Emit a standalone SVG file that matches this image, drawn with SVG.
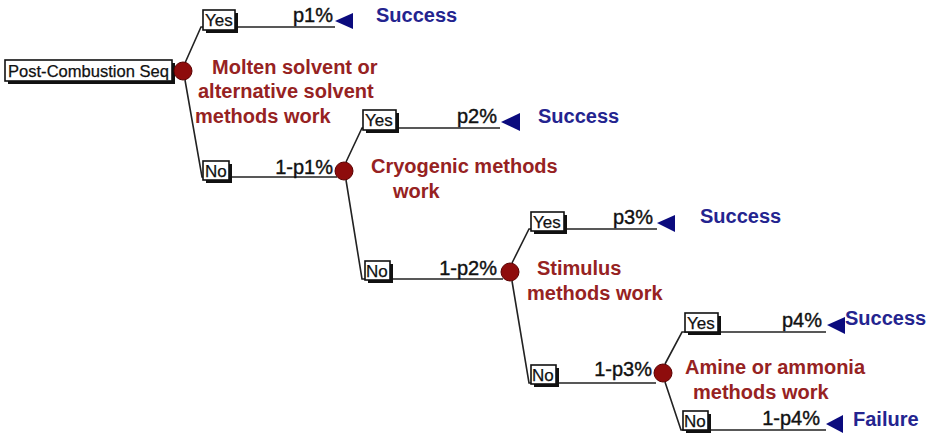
<svg xmlns="http://www.w3.org/2000/svg" width="935" height="440" viewBox="0 0 935 440">
<defs>
<style>
text{font-family:"Liberation Sans",Arial,sans-serif}
.box{fill:#fff;stroke:#111;stroke-width:1.6}
.sh{fill:#111}
.bt{font-size:17px;fill:#111;stroke:#111;stroke-width:0.25}
.dec{fill:#8e0c0c;stroke:#5a0000;stroke-width:1}
.lbl{font-size:20px;font-weight:bold;fill:#962222}
.pr{font-size:20px;fill:#111;stroke:#111;stroke-width:0.4;text-anchor:end}
.end{fill:#0b0b7e}
.out{font-size:20px;font-weight:bold;fill:#24248f}
.ln{fill:none;stroke:#222;stroke-width:1.6}
</style>
</defs>
<rect width="935" height="440" fill="#fff"/>
<g id="connectors">
<path class="ln" d="M185,63 L201,27 L335,27"/>
<path class="ln" d="M185,80 L202,177 L337,177"/>
<path class="ln" d="M346,162 L362,128 L500,128"/>
<path class="ln" d="M346,180 L362,279 L503,279"/>
<path class="ln" d="M512,263 L529,229 L657,229"/>
<path class="ln" d="M512,281 L529,383 L656,383"/>
<path class="ln" d="M665,364 L682,332 L826,332"/>
<path class="ln" d="M665,382 L681,430 L826,430"/>
</g>
<g id="root">
<rect class="sh" x="8" y="63" width="167" height="21"/>
<rect class="box" x="5" y="60" width="167" height="21"/>
<text class="bt" x="8" y="77" textLength="161" lengthAdjust="spacingAndGlyphs">Post-Combustion Seq</text>
</g>
<g id="decision1">
<circle class="dec" cx="183" cy="71" r="9"/>
<text class="lbl" x="212" y="74">Molten solvent or</text>
<text class="lbl" x="198" y="98">alternative solvent</text>
<text class="lbl" x="195" y="123">methods work</text>
</g>
<g id="yes1">
<rect class="sh" x="206" y="13" width="32" height="20"/>
<rect class="box" x="203" y="10" width="32" height="20"/>
<text class="bt" x="205" y="26">Yes</text>
<text class="pr" x="333" y="22">p1%</text>
</g>
<g id="success1">
<polygon class="end" points="335,21 353,13 353,29"/>
<text class="out" x="376" y="22">Success</text>
</g>
<g id="no1">
<rect class="sh" x="206" y="164" width="26" height="19"/>
<rect class="box" x="203" y="161" width="26" height="19"/>
<text class="bt" x="205" y="177">No</text>
<text class="pr" x="333" y="174">1-p1%</text>
</g>
<g id="decision2">
<circle class="dec" cx="344" cy="171" r="9"/>
<text class="lbl" x="371" y="173">Cryogenic methods</text>
<text class="lbl" x="393" y="198">work</text>
</g>
<g id="yes2">
<rect class="sh" x="366" y="113" width="33" height="20"/>
<rect class="box" x="363" y="110" width="33" height="20"/>
<text class="bt" x="365" y="126">Yes</text>
<text class="pr" x="497" y="123">p2%</text>
</g>
<g id="success2">
<polygon class="end" points="501,122 520,113 520,131"/>
<text class="out" x="538" y="123">Success</text>
</g>
<g id="no2">
<rect class="sh" x="368" y="264" width="25" height="19"/>
<rect class="box" x="365" y="261" width="25" height="19"/>
<text class="bt" x="366" y="277">No</text>
<text class="pr" x="497" y="275">1-p2%</text>
</g>
<g id="decision3">
<circle class="dec" cx="510" cy="272" r="9"/>
<text class="lbl" x="537" y="275">Stimulus</text>
<text class="lbl" x="527" y="300">methods work</text>
</g>
<g id="yes3">
<rect class="sh" x="534" y="215" width="33" height="19"/>
<rect class="box" x="531" y="212" width="33" height="19"/>
<text class="bt" x="533" y="228">Yes</text>
<text class="pr" x="653" y="224">p3%</text>
</g>
<g id="success3">
<polygon class="end" points="657,223 675,215 675,232"/>
<text class="out" x="700" y="223">Success</text>
</g>
<g id="no3">
<rect class="sh" x="534" y="368" width="25" height="19"/>
<rect class="box" x="531" y="365" width="25" height="19"/>
<text class="bt" x="532" y="381">No</text>
<text class="pr" x="652" y="376">1-p3%</text>
</g>
<g id="decision4">
<circle class="dec" cx="663" cy="373" r="9"/>
<text class="lbl" x="685" y="374">Amine or ammonia</text>
<text class="lbl" x="693" y="399">methods work</text>
</g>
<g id="yes4">
<rect class="sh" x="688" y="316" width="33" height="19"/>
<rect class="box" x="685" y="313" width="33" height="19"/>
<text class="bt" x="687" y="329">Yes</text>
<text class="pr" x="822" y="327">p4%</text>
</g>
<g id="success4">
<polygon class="end" points="827,325 845,317 845,334"/>
<text class="out" x="845" y="325">Success</text>
</g>
<g id="no4">
<rect class="sh" x="686" y="414" width="25" height="19"/>
<rect class="box" x="683" y="411" width="25" height="19"/>
<text class="bt" x="684" y="427">No</text>
<text class="pr" x="820" y="425">1-p4%</text>
</g>
<g id="failure">
<polygon class="end" points="826,424 843,415 843,433"/>
<text class="out" x="853" y="426">Failure</text>
</g>
</svg>
